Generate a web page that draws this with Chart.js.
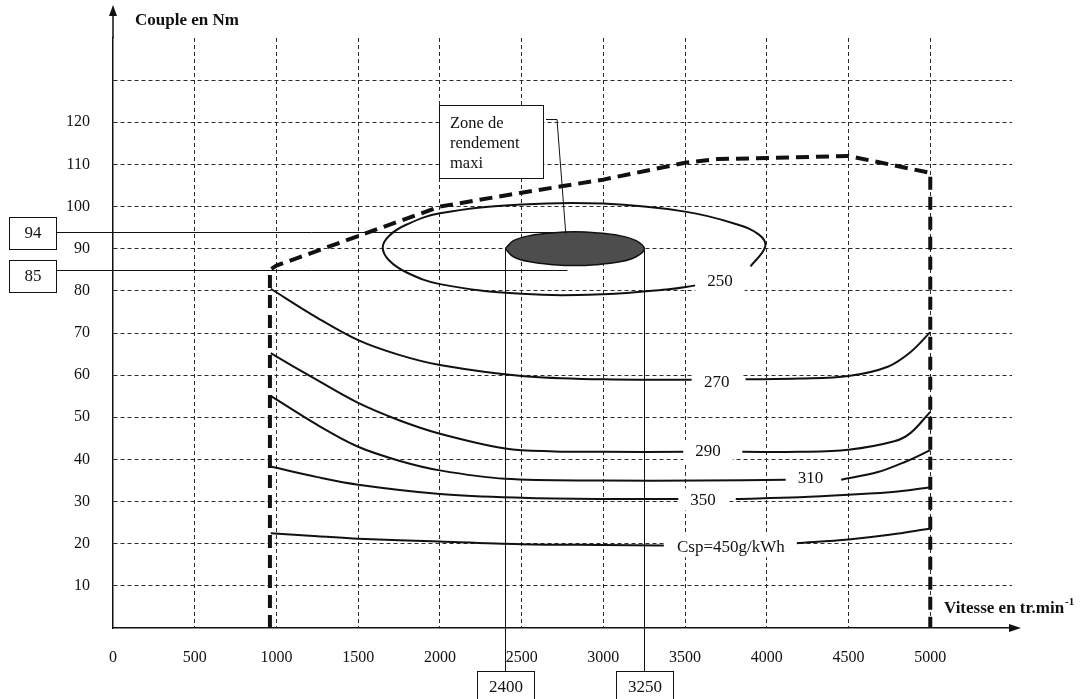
<!DOCTYPE html>
<html>
<head>
<meta charset="utf-8">
<script src="https://cdn.jsdelivr.net/npm/chart.js@4.4.1/dist/chart.umd.min.js"></script>
<style>
  html, body { margin: 0; padding: 0; background: #fff; }
  #wrap { width: 1081px; height: 699px; position: relative; }
</style>
</head>
<body>
<div id="wrap"><canvas id="myChart"></canvas></div>
<script>
// axis ticks
const speedTicks = [0, 500, 1000, 1500, 2000, 2500, 3000, 3500, 4000, 4500, 5000]
const torqueTicks = [10, 20, 30, 40, 50, 60, 70, 80, 90, 100, 110, 120]

// full load limit (thick dashed)
const limitSpeed = [960, 960, 1000, 1500, 2000, 2500, 3000, 3500, 3700, 4000, 4500, 5000, 5000]
const limitTorque = [0, 85, 86, 93, 100, 103.3, 106.4, 110.4, 111.3, 111.5, 112, 108, 0]

// iso-consumption curves (null = gap for the label)
const iso250Speed = [3900, 3990, 3950, 3800, 3500, 3000, 2500, 2000, 1800, 1690, 1650, 1690, 1800, 2000, 2500, 3000, 3400, 3565]
const iso250Torque = [85.8, 90.5, 93.4, 96, 98.8, 100.7, 100.5, 98.4, 95.8, 93.1, 90.3, 87.2, 84.3, 81.6, 79.3, 79.2, 80.4, 81.3]

const iso270Speed = [965, 1250, 1500, 1750, 2000, 2500, 3000, 3540, 3700, 3870, 4200, 4500, 4740, 4880, 5000]
const iso270Torque = [80.5, 73.6, 68.3, 64.8, 62.4, 59.8, 59, 58.9, null, 59, 59.2, 59.8, 62, 65.5, 70.2]

const iso290Speed = [965, 1250, 1500, 1750, 2000, 2400, 2700, 3000, 3510, 3680, 3850, 4200, 4500, 4780, 4880, 5000]
const iso290Torque = [65.2, 58.8, 53.4, 49.3, 46.1, 42.6, 41.9, 41.8, 41.8, null, 41.8, 41.8, 42.3, 44.3, 46.3, 51.3]

const iso310Speed = [965, 1250, 1500, 1750, 2000, 2400, 3000, 3600, 4120, 4280, 4455, 4680, 4845, 5000]
const iso310Torque = [55.1, 48.2, 43, 39.7, 37.4, 35.4, 35, 35, 35.2, null, 35.2, 37, 39.4, 42.2]

const iso350Speed = [965, 1250, 1500, 2000, 2500, 3000, 3475, 3640, 3810, 4200, 4500, 4800, 5000]
const iso350Torque = [38.3, 35.8, 34, 31.8, 30.9, 30.6, 30.6, null, 30.6, 31, 31.6, 32.4, 33.4]

const iso450Speed = [965, 1250, 1500, 2000, 2500, 3000, 3370, 3780, 4180, 4500, 4750, 5000]
const iso450Torque = [22.5, 21.8, 21.2, 20.5, 19.9, 19.7, 19.6, null, 20.1, 21, 22.1, 23.6]

// max efficiency zone (dark ellipse)
const zoneSpeed = [2400, 2450, 2550, 2700, 2825, 2950, 3100, 3200, 3250, 3200, 3100, 2950, 2825, 2700, 2550, 2450, 2400]
const zoneTorque = [90, 91.9, 93.1, 93.8, 94, 93.8, 93.1, 91.9, 90, 88.1, 86.9, 86.2, 86, 86.2, 86.9, 88.1, 90]

// curve labels
const isoNames = ['250', '270', '290', '310', '350', 'Csp=450g/kWh']
const isoNameSpeed = [3713, 3694, 3640, 4267, 3610, 3780]
const isoNameTorque = [82.5, 58.4, 42, 35.7, 30.5, 19.4]

// zone marks
const zoneTorqueMarks = [94, 85]
const zoneSpeedMarks = [2400, 3250]

const serif = "'Liberation Serif', 'Times New Roman', serif"
const ink = '#111'

function pts(xs, ys) {
  return xs.map((v, i) => ({x: v, y: ys[i]}))
}

function isoSet(xs, ys) {
  return {
    data: pts(xs, ys),
    borderColor: ink,
    borderWidth: 2,
    pointRadius: 0,
    fill: false,
    tension: 0.35,
    spanGaps: false
  }
}

const marks = {
  id: 'marks',
  beforeDatasetsDraw(chart) {
    const {ctx, scales: {x, y}} = chart
    ctx.save()
    ctx.strokeStyle = ink
    ctx.lineWidth = 1
    // 94 and 85 lines from boxes to the zone
    const endX = x.getPixelForValue(2780)
    zoneTorqueMarks.forEach(t => {
      const py = Math.round(y.getPixelForValue(t)) + 0.5
      ctx.beginPath()
      ctx.moveTo(56, py)
      ctx.lineTo(endX, py)
      ctx.stroke()
    })
    // 2400 and 3250 lines down to boxes
    const topY = y.getPixelForValue(90)
    zoneSpeedMarks.forEach(s => {
      const px = Math.round(x.getPixelForValue(s)) + 0.5
      ctx.beginPath()
      ctx.moveTo(px, topY)
      ctx.lineTo(px, 671)
      ctx.stroke()
    })
    ctx.restore()
  },
  afterDatasetsDraw(chart) {
    const {ctx, scales: {x, y}} = chart
    ctx.save()
    ctx.font = '17px ' + serif
    ctx.textAlign = 'center'
    ctx.textBaseline = 'middle'
    isoNames.forEach((name, i) => {
      const px = x.getPixelForValue(isoNameSpeed[i])
      const py = y.getPixelForValue(isoNameTorque[i])
      const w = ctx.measureText(name).width
      ctx.fillStyle = '#fff'
      ctx.fillRect(px - w / 2 - 12, py - 11, w + 24, 22)
      ctx.fillStyle = ink
      ctx.fillText(name, px, py + 1)
    })

    // "Zone de rendement maxi" box and leader
    ctx.strokeStyle = ink
    ctx.lineWidth = 1
    ctx.fillStyle = '#fff'
    ctx.fillRect(439.5, 105.5, 104, 73)
    ctx.strokeRect(439.5, 105.5, 104, 73)
    ctx.beginPath()
    ctx.moveTo(546, 119.5)
    ctx.lineTo(557, 119.5)
    ctx.lineTo(x.getPixelForValue(2770), y.getPixelForValue(93.6))
    ctx.stroke()
    ctx.fillStyle = ink
    ctx.textAlign = 'left'
    ctx.font = '16.5px ' + serif
    ctx.fillText('Zone de', 450, 124)
    ctx.fillText('rendement', 450, 144)
    ctx.fillText('maxi', 450, 164)

    // value boxes
    ctx.font = '17px ' + serif
    ctx.textAlign = 'center'
    const leftBoxes = [[zoneTorqueMarks[0], 217], [zoneTorqueMarks[1], 260]]
    leftBoxes.forEach(([t, top]) => {
      ctx.fillStyle = '#fff'
      ctx.fillRect(9.5, top + 0.5, 47, 32)
      ctx.strokeRect(9.5, top + 0.5, 47, 32)
      ctx.fillStyle = ink
      ctx.fillText(String(t), 33, top + 17)
    })
    zoneSpeedMarks.forEach(s => {
      const px = Math.round(x.getPixelForValue(s)) + 0.5
      ctx.fillStyle = '#fff'
      ctx.fillRect(px - 28, 671.5, 57, 34)
      ctx.strokeRect(px - 28, 671.5, 57, 34)
      ctx.fillStyle = ink
      ctx.fillText(String(s), px + 0.5, 688)
    })
    ctx.restore()
  },
  afterDraw(chart) {
    const {ctx, chartArea: a} = chart
    ctx.save()
    ctx.strokeStyle = ink
    ctx.fillStyle = ink
    ctx.lineWidth = 1.5
    // y axis arrow
    ctx.beginPath()
    ctx.moveTo(a.left, a.top)
    ctx.lineTo(a.left, 14)
    ctx.stroke()
    ctx.beginPath()
    ctx.moveTo(a.left, 5)
    ctx.lineTo(a.left - 4, 16)
    ctx.lineTo(a.left + 4, 16)
    ctx.closePath()
    ctx.fill()
    // x axis arrow
    ctx.beginPath()
    ctx.moveTo(a.right, a.bottom)
    ctx.lineTo(1012, a.bottom)
    ctx.stroke()
    ctx.beginPath()
    ctx.moveTo(1021, a.bottom)
    ctx.lineTo(1009, a.bottom - 4)
    ctx.lineTo(1009, a.bottom + 4)
    ctx.closePath()
    ctx.fill()
    // axis titles
    ctx.textBaseline = 'middle'
    ctx.textAlign = 'left'
    ctx.font = 'bold 17px ' + serif
    ctx.fillText('Couple en Nm', 135, 21)
    const t = 'Vitesse en tr.min'
    ctx.fillText(t, 944, 609)
    const w = ctx.measureText(t).width
    ctx.font = 'bold 11px ' + serif
    ctx.fillText('-1', 944 + w + 1, 602)
    ctx.restore()
  }
}

new Chart(document.getElementById('myChart'), {
  type: 'line',
  data: {
    datasets: [
      {
        data: pts(limitSpeed, limitTorque),
        borderColor: ink,
        borderWidth: 4,
        borderDash: [13, 7],
        pointRadius: 0,
        tension: 0,
        fill: false
      },
      {
        data: pts(iso250Speed, iso250Torque),
        borderColor: ink,
        borderWidth: 2,
        pointRadius: 0,
        tension: 0.4,
        fill: false
      },
      isoSet(iso270Speed, iso270Torque),
      isoSet(iso290Speed, iso290Torque),
      isoSet(iso310Speed, iso310Torque),
      isoSet(iso350Speed, iso350Torque),
      isoSet(iso450Speed, iso450Torque),
      {
        data: pts(zoneSpeed, zoneTorque),
        borderColor: ink,
        borderWidth: 1.5,
        backgroundColor: '#4d4d4d',
        pointRadius: 0,
        tension: 0.4,
        fill: 'shape'
      }
    ]
  },
  options: {
    responsive: true,
    maintainAspectRatio: false,
    animation: false,
    layout: {padding: {top: 38, right: 69, left: 0, bottom: 0}},
    plugins: {
      legend: {display: false},
      tooltip: {enabled: false}
    },
    scales: {
      x: {
        type: 'linear',
        min: 0,
        max: 5500,
        afterFit: s => { s.height = 71 },
        afterBuildTicks: s => { s.ticks = speedTicks.concat([5500]).map(v => ({value: v})) },
        ticks: {
          padding: 20,
          color: ink,
          font: {family: serif, size: 16},
          maxRotation: 0,
          autoSkip: false,
          callback: v => speedTicks.includes(v) ? String(v) : ''
        },
        grid: {
          drawTicks: false,
          lineWidth: 1,
          color: c => (c.tick && (c.tick.value === 0 || c.tick.value === 5500)) ? 'rgba(0,0,0,0)' : '#2a2a2a'
        },
        border: {display: true, color: ink, width: 1.5, dash: [4, 3]}
      },
      y: {
        min: 0,
        max: 140,
        afterFit: s => { s.width = 113 },
        afterBuildTicks: s => { s.ticks = [0].concat(torqueTicks, [130, 140]).map(v => ({value: v})) },
        ticks: {
          padding: 23,
          color: ink,
          font: {family: serif, size: 16},
          autoSkip: false,
          callback: v => torqueTicks.includes(v) ? String(v) : ''
        },
        grid: {
          drawTicks: false,
          lineWidth: 1,
          color: c => (c.tick && (c.tick.value === 0 || c.tick.value === 140)) ? 'rgba(0,0,0,0)' : '#2a2a2a'
        },
        border: {display: true, color: ink, width: 1.5, dash: [4, 3]}
      }
    }
  },
  plugins: [marks]
})
</script>
</body>
</html>
